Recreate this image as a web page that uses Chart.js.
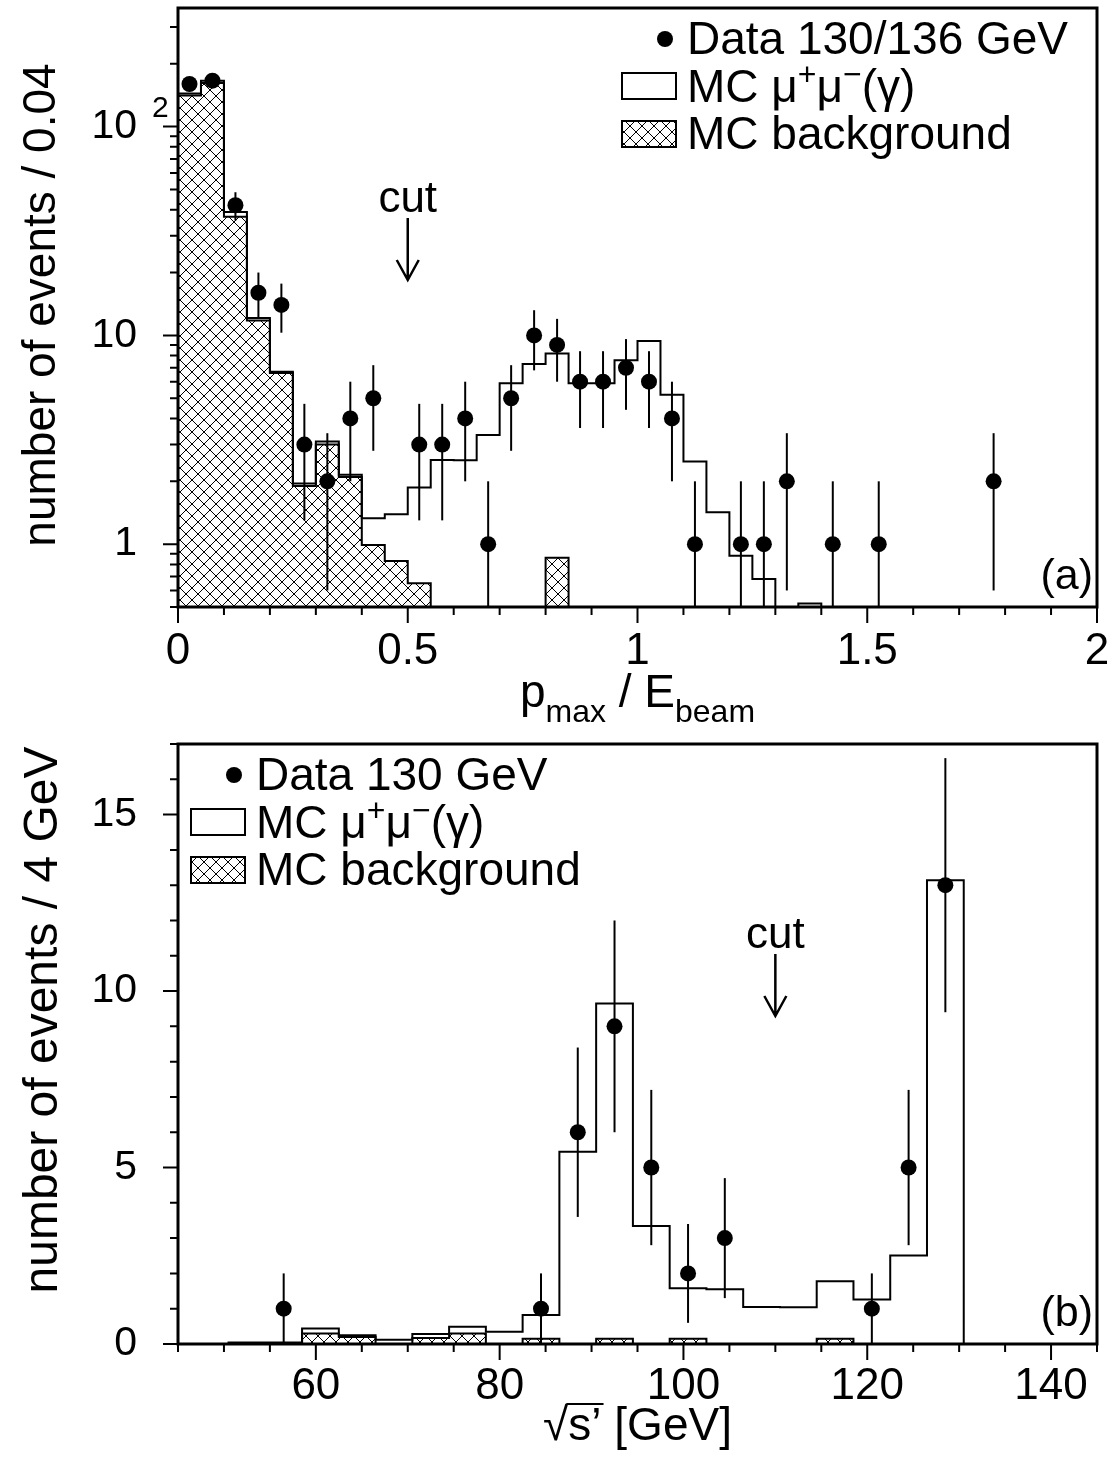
<!DOCTYPE html>
<html>
<head>
<meta charset="utf-8">
<script src="https://cdn.jsdelivr.net/npm/chart.js@4.4.1/dist/chart.umd.min.js"></script>
<style>
  html, body { margin: 0; padding: 0; background: #fff; }
  #boxA { position: absolute; left: 0; top: 0; width: 1116px; height: 730px; }
  #boxB { position: absolute; left: 0; top: 730px; width: 1116px; height: 728px; }
</style>
</head>
<body>
<div id="boxA"><canvas id="chartA" width="1116" height="730"></canvas></div>
<div id="boxB"><canvas id="chartB" width="1116" height="728"></canvas></div>
<script>
// ---- panel (a): p_max / E_beam ----
const edgesA = [0, 0.05, 0.1, 0.15, 0.2, 0.25, 0.3, 0.35, 0.4, 0.45, 0.5, 0.55, 0.6, 0.65, 0.7, 0.75, 0.8, 0.85, 0.9, 0.95,
  1, 1.05, 1.1, 1.15, 1.2, 1.25, 1.3, 1.35, 1.4, 1.45, 1.5, 1.55, 1.6, 1.65, 1.7, 1.75, 1.8, 1.85, 1.9, 1.95, 2];
const dataA = [160, 166, 42, 16, 14, 3, 2, 4, 5, 0, 3, 3, 4, 1, 5, 10, 9, 6, 6, 7,
  6, 4, 1, 0, 1, 1, 2, 0, 1, 0, 1, 0, 0, 0, 0, 2, 0, 0, 0, 0];
const errA = [12.6, 12.9, 6.5, 4, 3.7, 1.7, 1.4, 2, 2.2, 0, 1.7, 1.7, 2, 1, 2.2, 3.2, 3, 2.4, 2.4, 2.6,
  2.4, 2, 1, 0, 1, 1, 1.4, 0, 1, 0, 1, 0, 0, 0, 0, 1.4, 0, 0, 0, 0];
const mcSigA = [144, 166, 39, 12.1, 6.7, 1.95, 3.1, 2.15, 1.33, 1.39, 1.87, 2.53, 2.52, 3.33, 5.9, 7.3, 8.2, 5.9, 5.9, 7.6,
  9.4, 5.2, 2.49, 1.42, 0.88, 0.68, 0, 0.52, 0, 0, 0, 0, 0, 0, 0, 0, 0, 0, 0, 0];
const mcBkgA = [141, 162, 37, 11.8, 6.6, 1.9, 3.0, 2.1, 0.99, 0.83, 0.65, 0, 0, 0, 0, 0, 0.86, 0, 0, 0,
  0, 0, 0, 0, 0, 0, 0, 0, 0, 0, 0, 0, 0, 0, 0, 0, 0, 0, 0, 0];
const xMajorA = [0, 0.5, 1, 1.5, 2];
const xMinorA = [0.1, 0.2, 0.3, 0.4, 0.6, 0.7, 0.8, 0.9, 1.1, 1.2, 1.3, 1.4, 1.6, 1.7, 1.8, 1.9];
const yMajorA = [1, 10, 100];
const yMinorA = [0.5, 0.6, 0.7, 0.8, 0.9, 2, 3, 4, 5, 6, 7, 8, 9, 20, 30, 40, 50, 60, 70, 80, 90, 200, 300];

// ---- panel (b): sqrt(s') ----
const edgesB = [50.5, 54.5, 58.5, 62.5, 66.5, 70.5, 74.5, 78.5, 82.5, 86.5, 90.5,
  94.5, 98.5, 102.5, 106.5, 110.5, 114.5, 118.5, 122.5, 126.5, 130.5];
const dataB = [0, 1, 0, 0, 0, 0, 0, 0, 1, 6, 9, 5, 2, 3, 0, 0, 0, 1, 5, 13];
const errB = [0, 1, 0, 0, 0, 0, 0, 0, 1, 2.4, 3, 2.2, 1.4, 1.7, 0, 0, 0, 1, 2.2, 3.6];
const mcSigB = [0.04, 0.04, 0.44, 0.25, 0.12, 0.28, 0.49, 0.35, 0.82, 5.45, 9.65, 3.34, 1.58, 1.55, 1.05, 1.04, 1.78, 1.26, 2.51, 13.14];
const mcBkgB = [0, 0, 0.3, 0.2, 0, 0.17, 0.3, 0, 0.15, 0, 0.15, 0, 0.15, 0, 0, 0, 0.15, 0, 0, 0];
const xMajorB = [60, 80, 100, 120, 140];
const xMinorB = [45, 50, 55, 65, 70, 75, 85, 90, 95, 105, 110, 115, 125, 130, 135, 145];
const yMajorB = [0, 5, 10, 15];
const yMinorB = [1, 2, 3, 4, 6, 7, 8, 9, 11, 12, 13, 14, 16, 17];

const FONT = '"Liberation Sans", Arial, Helvetica, sans-serif';
Chart.defaults.color = '#000';
Chart.defaults.font.family = FONT;

// step outline of a histogram, dropping to "floor" at both ends
function histPoints(edges, vals, floor) {
  const pts = [{ x: edges[0], y: floor }];
  vals.forEach((v, i) => pts.push({ x: edges[i], y: v > 0 ? v : floor }));
  const last = vals[vals.length - 1];
  pts.push({ x: edges[edges.length - 1], y: last > 0 ? last : floor });
  pts.push({ x: edges[edges.length - 1], y: floor });
  return pts;
}
function dataPoints(edges, vals) {
  const pts = [];
  vals.forEach((v, i) => { if (v > 0) pts.push({ x: (edges[i] + edges[i + 1]) / 2, y: v }); });
  return pts;
}
function makeHatch(ctx, size) {
  const c = document.createElement('canvas');
  c.width = c.height = size;
  const g = c.getContext('2d');
  g.strokeStyle = '#000';
  g.lineWidth = 1;
  g.beginPath();
  g.moveTo(0, 0); g.lineTo(size, size);
  g.moveTo(size, 0); g.lineTo(0, size);
  g.stroke();
  return ctx.createPattern(c, 'repeat');
}

// text with super/subscripts: parts = [[text, mode]] mode 1 = sup, -1 = sub
function drawRich(ctx, parts, x, y, size) {
  let cx = x;
  parts.forEach(([t, m]) => {
    const fs = m === 0 ? size : Math.round(size * 0.7);
    ctx.font = fs + 'px ' + FONT;
    const dy = m === 1 ? -size * 0.36 : (m === -1 ? size * 0.33 : 0);
    ctx.fillText(t, cx, y + dy);
    cx += ctx.measureText(t).width;
  });
  return cx - x;
}
function richWidth(ctx, parts, size) {
  let w = 0;
  parts.forEach(([t, m]) => {
    ctx.font = (m === 0 ? size : Math.round(size * 0.7)) + 'px ' + FONT;
    w += ctx.measureText(t).width;
  });
  return w;
}

const muLabel = [['MC ', 0], ['\u03bc', 0], ['+', 1], ['\u03bc', 0], ['\u2212', 1], ['(\u03b3)', 0]];

const decor = {
  id: 'decor',
  afterDatasetsDraw(chart, args, o) {
    const { ctx, chartArea: a } = chart;
    const xs = chart.scales.x, ys = chart.scales.y;
    ctx.save();
    ctx.beginPath();
    ctx.rect(a.left, a.top, a.right - a.left, a.bottom - a.top);
    ctx.clip();
    ctx.strokeStyle = '#000';
    ctx.lineWidth = 2;
    o.counts.forEach((n, i) => {
      if (!n) return;
      const x = xs.getPixelForValue((o.edges[i] + o.edges[i + 1]) / 2);
      const lo = Math.max(n - o.errs[i], ys.min);
      ctx.beginPath();
      ctx.moveTo(x, ys.getPixelForValue(lo));
      ctx.lineTo(x, ys.getPixelForValue(n + o.errs[i]));
      ctx.stroke();
    });
    ctx.restore();
  },
  afterDraw(chart, args, o) {
    const { ctx, chartArea: a } = chart;
    const xs = chart.scales.x, ys = chart.scales.y;
    ctx.save();
    ctx.fillStyle = '#000';
    ctx.strokeStyle = '#000';

    // tick marks (outside)
    ctx.lineWidth = 2;
    ctx.beginPath();
    o.xMajor.forEach(v => { const x = xs.getPixelForValue(v); ctx.moveTo(x, a.bottom); ctx.lineTo(x, a.bottom + 16); });
    o.xMinor.forEach(v => { const x = xs.getPixelForValue(v); ctx.moveTo(x, a.bottom); ctx.lineTo(x, a.bottom + 8); });
    o.yMajor.forEach(v => { const y = ys.getPixelForValue(v); ctx.moveTo(a.left - 15, y); ctx.lineTo(a.left, y); });
    o.yMinor.forEach(v => { const y = ys.getPixelForValue(v); ctx.moveTo(a.left - 8, y); ctx.lineTo(a.left, y); });
    ctx.stroke();

    // frame
    ctx.lineWidth = 3;
    ctx.strokeRect(a.left, a.top, a.right - a.left, a.bottom - a.top);

    // exponent of the 10^2 label
    if (o.expValue) {
      ctx.font = '30px ' + FONT;
      ctx.textAlign = 'left';
      ctx.fillText('2', 152, ys.getPixelForValue(o.expValue) - 10);
    }

    // y title
    ctx.save();
    ctx.font = o.yTitleSize + 'px ' + FONT;
    ctx.textAlign = 'center';
    ctx.translate(o.yTitleX, o.yTitleY);
    ctx.rotate(-Math.PI / 2);
    ctx.fillText(o.yTitle, 0, 0);
    ctx.restore();

    // x title
    ctx.textAlign = 'left';
    const cx = (a.left + a.right) / 2;
    const by = a.bottom + o.xTitleDy;
    if (o.xTitle === 'p') {
      const parts = [['p', 0], ['max', -1], [' / E', 0], ['beam', -1]];
      const w = richWidth(ctx, parts, 46);
      drawRich(ctx, parts, cx - w / 2, by, 46);
    } else {
      ctx.font = '46px ' + FONT;
      const wR = ctx.measureText('\u221a').width;
      const wS = ctx.measureText('s\u2019').width;
      const wG = ctx.measureText(' [GeV]').width;
      const x0 = cx - (wR + wS + wG) / 2;
      ctx.fillText('\u221a', x0, by);
      ctx.fillText('s\u2019', x0 + wR, by);
      ctx.fillText(' [GeV]', x0 + wR + wS, by);
      const m = ctx.measureText('\u221a');
      const top = by - m.actualBoundingBoxAscent + 1;
      ctx.lineWidth = 2;
      ctx.beginPath();
      ctx.moveTo(x0 + wR - 2, top);
      ctx.lineTo(x0 + wR + wS + 2, top);
      ctx.stroke();
    }

    // cut marker
    const xc = xs.getPixelForValue(o.cut);
    ctx.font = '44px ' + FONT;
    ctx.textAlign = 'center';
    ctx.fillText('cut', xc, a.top + 204);
    ctx.lineWidth = 2.5;
    ctx.beginPath();
    ctx.moveTo(xc, a.top + 210); ctx.lineTo(xc, a.top + 272);
    ctx.moveTo(xc - 11, a.top + 252); ctx.lineTo(xc, a.top + 272); ctx.lineTo(xc + 11, a.top + 252);
    ctx.stroke();

    // panel tag
    ctx.font = '43px ' + FONT;
    ctx.textAlign = 'right';
    ctx.fillText(o.tag, a.right - 4, a.bottom - 18);

    // legend
    const lx = o.legendRight ? a.right - 410 : a.left + 78;
    const t = a.top;
    ctx.textAlign = 'left';
    ctx.beginPath();
    ctx.arc(lx - 22, t + 31, 8, 0, Math.PI * 2);
    ctx.fill();
    ctx.font = '46px ' + FONT;
    ctx.fillText(o.dataLabel, lx, t + 46);
    ctx.lineWidth = 2;
    ctx.strokeRect(lx - 65, t + 65, 54, 26);
    drawRich(ctx, muLabel, lx, t + 94, 46);
    ctx.fillStyle = o.hatch;
    ctx.fillRect(lx - 65, t + 113, 54, 26);
    ctx.fillStyle = '#000';
    ctx.strokeRect(lx - 65, t + 113, 54, 26);
    ctx.font = '46px ' + FONT;
    ctx.fillText('MC background', lx, t + 141);
    ctx.restore();
  }
};

function buildChart(id, cfg) {
  const canvas = document.getElementById(id);
  const hatch = makeHatch(canvas.getContext('2d'), 12);
  return new Chart(canvas, {
    type: 'line',
    data: {
      datasets: [
        { label: cfg.dataLabel, data: dataPoints(cfg.edges, cfg.counts), showLine: false,
          pointRadius: 8, pointHoverRadius: 8, pointBackgroundColor: '#000', pointBorderWidth: 0 },
        { label: 'MC \u03bc\u207a\u03bc\u207b(\u03b3)', data: histPoints(cfg.edges, cfg.sig, cfg.floor), stepped: true,
          borderColor: '#000', borderWidth: 2, pointRadius: 0, fill: false },
        { label: 'MC background', data: histPoints(cfg.edges, cfg.bkg, cfg.floor), stepped: true,
          borderColor: '#000', borderWidth: 2, pointRadius: 0, fill: 'start', backgroundColor: hatch }
      ]
    },
    options: {
      responsive: false,
      animation: false,
      devicePixelRatio: 1,
      events: [],
      layout: { padding: { left: 0, right: 19, top: cfg.padTop, bottom: 0 } },
      plugins: {
        legend: { display: false },
        tooltip: { enabled: false },
        decor: Object.assign({ hatch, edges: cfg.edges, counts: cfg.counts, errs: cfg.errs }, cfg.decor)
      },
      scales: {
        x: {
          type: 'linear', min: cfg.xMin, max: cfg.xMax,
          afterBuildTicks: s => { s.ticks = cfg.decor.xMajor.map(v => ({ value: v })); },
          afterFit: s => { s.height = cfg.xHeight; s.paddingLeft = 0; s.paddingRight = 0; },
          grid: { display: false, drawTicks: false },
          border: { display: false },
          ticks: { font: { size: 44 }, padding: cfg.xPad, maxRotation: 0, autoSkip: false, callback: v => String(v) }
        },
        y: {
          type: cfg.yType, min: cfg.yMin, max: cfg.yMax,
          afterBuildTicks: s => { s.ticks = cfg.decor.yMajor.map(v => ({ value: v })); },
          afterFit: s => { s.width = 178; s.paddingTop = 0; s.paddingBottom = 0; },
          grid: { display: false, drawTicks: false },
          border: { display: false },
          ticks: { font: { size: 41 }, padding: 41, autoSkip: false, callback: v => (v === 100 ? '10' : String(v)) }
        }
      }
    },
    plugins: [decor]
  });
}

buildChart('chartA', {
  edges: edgesA, counts: dataA, errs: errA, sig: mcSigA, bkg: mcBkgA, floor: 0.3,
  dataLabel: 'Data 130/136 GeV', padTop: 7, xHeight: 123, xPad: 18,
  xMin: 0, xMax: 2, yType: 'logarithmic', yMin: 0.5, yMax: 370,
  decor: {
    xMajor: xMajorA, xMinor: xMinorA, yMajor: yMajorA, yMinor: yMinorA, expValue: 100,
    yTitle: 'number of events / 0.04', yTitleSize: 46, yTitleX: 55, yTitleY: 305,
    xTitle: 'p', xTitleDy: 100, cut: 0.5, tag: '(a)', legendRight: true, dataLabel: 'Data 130/136 GeV'
  }
});

buildChart('chartB', {
  edges: edgesB, counts: dataB, errs: errB, sig: mcSigB, bkg: mcBkgB, floor: 0,
  dataLabel: 'Data 130 GeV', padTop: 14, xHeight: 114, xPad: 16,
  xMin: 45, xMax: 145, yType: 'linear', yMin: 0, yMax: 17,
  decor: {
    xMajor: xMajorB, xMinor: xMinorB, yMajor: yMajorB, yMinor: yMinorB, expValue: 0,
    yTitle: 'number of events / 4 GeV', yTitleSize: 48, yTitleX: 57, yTitleY: 290,
    xTitle: 's', xTitleDy: 96, cut: 110, tag: '(b)', legendRight: false, dataLabel: 'Data 130 GeV'
  }
});
</script>
</body>
</html>
